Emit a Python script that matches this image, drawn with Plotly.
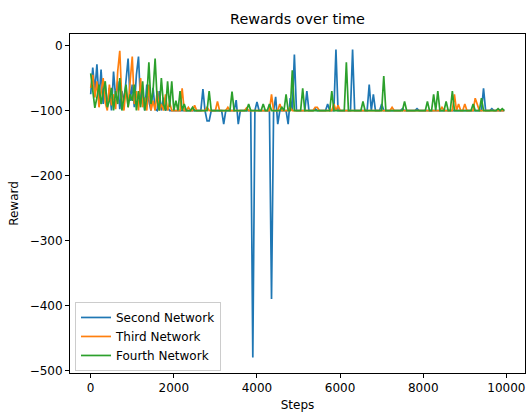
import plotly.graph_objects as go

STEPS = list(range(0, 10000, 50))

SECOND = [
    # 0-950
    -75, -34, -70, -29, -85, -37, -90, -60, -95, -65, -100, -40, -80, -55, -98, -70, -88, -50, -20, -85,
    # 1000-1950
    -60, -95, -45, -17, -90, -70, -100, -60, -85, -100, -65, -98, -100, -70, -100, -80, -100, -95, -100, -100,
    # 2000-2950
    -100, -100, -100, -100, -100, -100, -100, -100, -100, -100, -100, -100, -100, -100, -67, -100, -116, -116, -100, -100,
    # 3000-3950
    -100, -100, -100, -100, -121, -100, -100, -100, -100, -100, -84, -121, -100, -100, -100, -100, -100, -100, -480, -100,
    # 4000-4950
    -87, -100, -100, -100, -100, -100, -100, -390, -100, -79, -121, -100, -100, -100, -100, -121, -81, -100, -14, -100,
    # 5000-5950
    -100, -100, -100, -100, -70, -100, -100, -100, -97, -100, -100, -100, -100, -100, -90, -100, -100, -100, -6, -100,
    # 6000-6950
    -100, -100, -100, -100, -100, -100, -6, -100, -100, -100, -100, -100, -100, -100, -60, -100, -75, -100, -100, -100,
    # 7000-7950
    -90, -100, -100, -100, -100, -100, -100, -100, -100, -100, -97, -100, -100, -100, -100, -100, -100, -97, -100, -100,
    # 8000-8950
    -100, -100, -100, -100, -100, -100, -100, -100, -100, -100, -100, -100, -100, -100, -100, -100, -100, -100, -100, -100,
    # 9000-9950
    -100, -100, -100, -100, -100, -100, -100, -100, -100, -66, -100, -100, -100, -97, -100, -100, -100, -100, -100, -100,
]

THIRD = [
    # 0-950
    -65, -45, -80, -55, -95, -70, -50, -88, -100, -60, -92, -75, -98, -40, -8, -85, -100, -65, -95, -55,
    # 1000-1950
    -17, -90, -70, -100, -50, -95, -80, -100, -60, -100, -85, -100, -70, -100, -90, -100, -75, -100, -88, -100,
    # 2000-2950
    -100, -100, -100, -100, -66, -100, -100, -95, -100, -100, -92, -100, -100, -100, -100, -100, -95, -100, -100, -100,
    # 3000-3950
    -100, -86, -100, -100, -100, -100, -95, -100, -100, -100, -100, -100, -100, -100, -100, -96, -100, -100, -100, -100,
    # 4000-4950
    -100, -100, -100, -100, -100, -100, -100, -75, -100, -100, -100, -90, -100, -100, -100, -100, -95, -100, -100, -100,
    # 5000-5950
    -100, -100, -100, -100, -100, -100, -100, -100, -95, -95, -100, -100, -100, -100, -100, -100, -100, -90, -100, -92,
    # 6000-6950
    -100, -100, -100, -100, -100, -100, -100, -100, -100, -100, -100, -100, -100, -100, -100, -100, -100, -100, -100, -100,
    # 7000-7950
    -100, -100, -100, -100, -100, -95, -100, -100, -100, -100, -100, -100, -100, -100, -100, -100, -100, -100, -100, -100,
    # 8000-8950
    -100, -100, -100, -100, -100, -100, -100, -100, -100, -95, -100, -100, -100, -100, -100, -75, -100, -90, -100, -100,
    # 9000-9950
    -90, -100, -100, -100, -100, -81, -90, -100, -100, -100, -100, -100, -100, -100, -100, -100, -100, -100, -100, -100,
]

FOURTH = [
    # 0-950
    -43, -70, -96, -80, -60, -90, -75, -55, -95, -85, -65, -100, -70, -90, -50, -100, -80, -60, -95, -75,
    # 1000-1950
    -85, -60, -100, -70, -95, -55, -100, -80, -26, -90, -70, -20, -85, -100, -50, -90, -100, -55, -95, -55,
    # 2000-2950
    -100, -85, -100, -70, -100, -90, -100, -100, -100, -95, -100, -100, -100, -100, -100, -100, -100, -70, -100, -100,
    # 3000-3950
    -100, -100, -100, -100, -100, -100, -100, -100, -71, -100, -100, -100, -100, -100, -100, -100, -90, -100, -100, -100,
    # 4000-4950
    -100, -100, -100, -90, -100, -100, -90, -100, -100, -100, -100, -100, -95, -100, -75, -100, -100, -38, -100, -100,
    # 5000-5950
    -100, -100, -66, -100, -100, -100, -100, -100, -100, -100, -100, -100, -100, -100, -100, -100, -70, -100, -100, -100,
    # 6000-6950
    -100, -100, -100, -26, -100, -100, -100, -100, -100, -100, -100, -86, -100, -100, -100, -100, -100, -100, -100, -100,
    # 7000-7950
    -100, -47, -100, -100, -100, -100, -100, -100, -100, -100, -100, -86, -100, -100, -100, -100, -100, -100, -100, -100,
    # 8000-8950
    -100, -100, -86, -100, -100, -75, -100, -70, -100, -100, -100, -86, -100, -100, -70, -100, -100, -100, -100, -100,
    # 9000-9950
    -100, -100, -100, -100, -90, -100, -100, -100, -81, -100, -100, -100, -100, -100, -100, -100, -97, -100, -97, -100,
]

NAMES = ["Second Network", "Third Network", "Fourth Network"]
COLORS = ["#1f77b4", "#ff7f0e", "#2ca02c"]

X_TICKS = [0, 2000, 4000, 6000, 8000, 10000]
X_TICK_TEXT = ["0", "2000", "4000", "6000", "8000", "10000"]
Y_TICKS = [0, -100, -200, -300, -400, -500]
Y_TICK_TEXT = ["0", "\u2212100", "\u2212200", "\u2212300", "\u2212400", "\u2212500"]

FONT = "DejaVu Sans"

fig = go.Figure()
for name, vals, col in zip(NAMES, [SECOND, THIRD, FOURTH], COLORS):
    fig.add_trace(go.Scatter(x=STEPS, y=vals, mode="lines", name=name,
                             line=dict(color=col, width=1.7)))

axis_common = dict(showgrid=False, zeroline=False, showline=True, linecolor="black",
                   linewidth=1, mirror=True, ticks="outside", ticklen=4,
                   tickcolor="black", automargin=False,
                   tickfont=dict(family=FONT, size=12, color="black"))

fig.update_layout(
    width=526, height=414,
    margin=dict(l=70, r=1, t=34, b=41),
    paper_bgcolor="white", plot_bgcolor="white",
    font=dict(family=FONT, size=12, color="black"),
    title=dict(text="Rewards over time", x=0.5, xref="paper", y=1 - 19 / 414,
               yref="container", yanchor="middle", xanchor="center",
               font=dict(family=FONT, size=14.4, color="black")),
    xaxis=dict(range=[-497.5, 10447.5], tickvals=X_TICKS, ticktext=X_TICK_TEXT,
               title=dict(text="Steps", standoff=6, font=dict(family=FONT, size=12)),
               **axis_common),
    yaxis=dict(range=[-503.7, 17.7], tickvals=Y_TICKS, ticktext=Y_TICK_TEXT,
               title=dict(text="Reward", standoff=8, font=dict(family=FONT, size=12)),
               **axis_common),
    legend=dict(x=0.011, y=0.006, xanchor="left", yanchor="bottom",
                bgcolor="rgba(255,255,255,0.8)", bordercolor="#cccccc", borderwidth=1,
                font=dict(family=FONT, size=12, color="black"), itemwidth=30,
                tracegroupgap=0),
    showlegend=True,
)

fig.write_html("out.html")
